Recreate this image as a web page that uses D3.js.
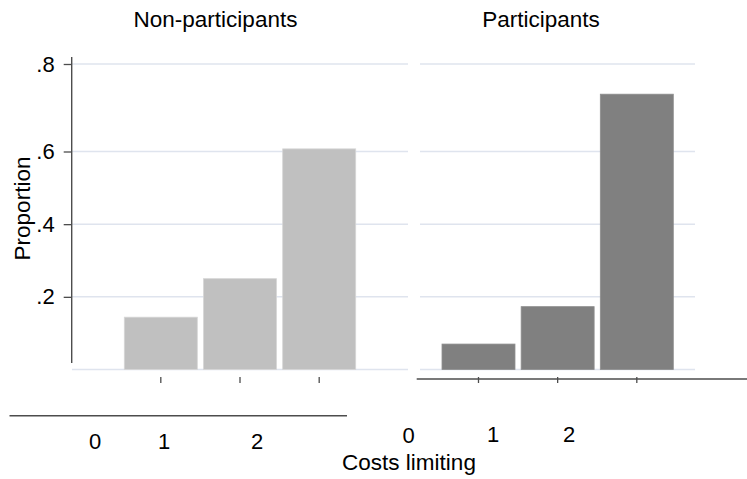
<!DOCTYPE html>
<html>
<head>
<meta charset="utf-8">
<script src="https://cdn.jsdelivr.net/npm/d3@7"></script>
<style>
  body { margin: 0; background: #fff; }
  svg { display: block; font-family: "Liberation Sans", Arial, sans-serif; }
</style>
</head>
<body>
<svg class="chart" width="747" height="479"></svg>
<script>
// données
let categories = ["0", "1", "2"];
let nonParticipants = [0.144, 0.250, 0.606];
let participants = [0.070, 0.173, 0.731];
let yTicks = [0.2, 0.4, 0.6, 0.8];
let yTickLabels = [".2", ".4", ".6", ".8"];
let panelTitles = ["Non-participants", "Participants"];
let xLabels = ["0", "1", "2"];

let svg = d3.select(".chart");

// échelle y (le graphique d'origine est un peu étiré en haut)
let y = d3.scaleLinear()
    .domain([0, 0.6, 0.8])
    .range([369.5, 151.5, 64]);

// échelles x pour chaque panneau
let xLeft = d3.scaleBand().domain(categories).range([124.3, 355.7]).paddingInner(0.078).paddingOuter(0);
let xRight = d3.scaleBand().domain(categories).range([442, 673.3]).paddingInner(0.078).paddingOuter(0);

let gridColor = "#dfe4ee";
let axisColor = "#4d4d4d";

// lignes de grille
function grid(x0, x1) {
  svg.append("g").selectAll("line")
    .data([0].concat(yTicks))
    .enter().append("line")
      .attr("x1", x0).attr("x2", x1)
      .attr("y1", d => y(d)).attr("y2", d => y(d))
      .attr("stroke", gridColor)
      .attr("stroke-width", 1.5);
}
grid(72, 408);
grid(420, 695);

// barres
function bars(x, values, color) {
  svg.append("g").selectAll("rect")
    .data(values)
    .enter().append("rect")
      .attr("x", (d, i) => x(categories[i]))
      .attr("y", d => y(d))
      .attr("width", x.bandwidth())
      .attr("height", d => y(0) - y(d))
      .attr("fill", color)
      .attr("stroke", d3.color(color).brighter(0.3))
      .attr("stroke-width", 0.8);
}
bars(xLeft, nonParticipants, "#c0c0c0");
bars(xRight, participants, "#808080");

// axe y
let yAxis = svg.append("g")
    .attr("transform", "translate(71.7,0)")
    .call(d3.axisLeft(y).tickValues(yTicks).tickSize(8).tickPadding(9)
      .tickFormat((d, i) => yTickLabels[i]));
yAxis.select(".domain").remove();
yAxis.selectAll("line").attr("stroke", axisColor).attr("stroke-width", 1.3);
yAxis.selectAll("text").attr("font-size", 22).attr("fill", "#000").attr("font-family", null);
svg.append("line")
    .attr("x1", 71.7).attr("x2", 71.7)
    .attr("y1", 57).attr("y2", 363)
    .attr("stroke", axisColor).attr("stroke-width", 1.4);

// ticks x
function xTicks(x, ypos) {
  let g = svg.append("g")
      .attr("transform", `translate(0,${ypos})`)
      .call(d3.axisBottom(x).tickSize(6).tickFormat(""));
  g.select(".domain").remove();
  g.selectAll("line").attr("stroke", axisColor).attr("stroke-width", 1.3);
}
xTicks(xLeft, 377);
svg.append("line")
    .attr("x1", 416.7).attr("x2", 747)
    .attr("y1", 379).attr("y2", 379)
    .attr("stroke", axisColor).attr("stroke-width", 1.5);
xTicks(xRight, 377);

// ligne séparée sous le panneau gauche
svg.append("line")
    .attr("x1", 9.5).attr("x2", 347)
    .attr("y1", 415.7).attr("y2", 415.7)
    .attr("stroke", axisColor).attr("stroke-width", 1.5);

// étiquettes x (décalées comme dans l'original)
let labLeft = d3.scaleLinear().domain([0, 1, 2]).range([95, 164, 257]);
let labRight = d3.scaleLinear().domain([0, 1, 2]).range([408.6, 493, 569]);
svg.append("g").selectAll("text")
  .data(xLabels)
  .enter().append("text")
    .attr("x", (d, i) => labLeft(i))
    .attr("y", 449)
    .attr("text-anchor", "middle")
    .attr("font-size", 22)
    .text(d => d);
svg.append("g").selectAll("text")
  .data(xLabels)
  .enter().append("text")
    .attr("x", (d, i) => labRight(i))
    .attr("y", (d, i) => i == 0 ? 443 : 441.5)
    .attr("text-anchor", "middle")
    .attr("font-size", 22)
    .text(d => d);

// titres
svg.append("text")
    .attr("x", 409).attr("y", 470)
    .attr("text-anchor", "middle")
    .attr("font-size", 22.5)
    .text("Costs limiting");

svg.append("text")
    .attr("transform", "translate(29.5,208.5) rotate(-90)")
    .attr("text-anchor", "middle")
    .attr("font-size", 22.5)
    .text("Proportion");

svg.selectAll(".ptitle")
  .data(panelTitles)
  .enter().append("text")
    .attr("class", "ptitle")
    .attr("x", (d, i) => i == 0 ? 215.5 : 541)
    .attr("y", 27)
    .attr("text-anchor", "middle")
    .attr("font-size", 22.5)
    .text(d => d);
</script>
</body>
</html>
